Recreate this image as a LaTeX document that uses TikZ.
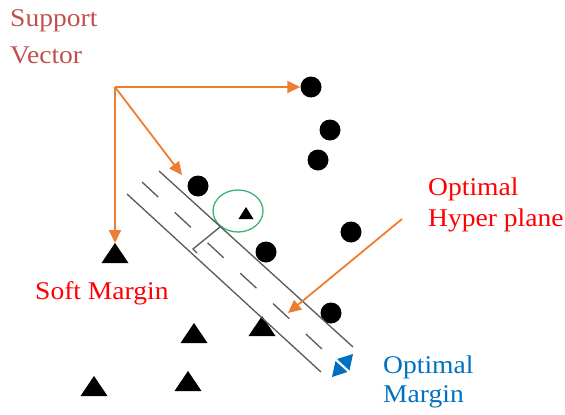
\documentclass[tikz,border=0pt]{standalone}
\usepackage{fontspec}
\setmainfont[FakeStretch=1.08]{Liberation Serif}
\usetikzlibrary{arrows.meta}
\definecolor{svred}{HTML}{C0504D}
\definecolor{orng}{HTML}{ED7D31}
\definecolor{mblue}{HTML}{0070C0}
\definecolor{grn}{HTML}{3CB371}
\definecolor{lgray}{HTML}{595959}
\begin{document}
\begin{tikzpicture}[x=1pt,y=-1pt,
  dot/.style={circle,fill=black,inner sep=0pt,minimum size=21pt},
  lbl/.style={anchor=base west,inner sep=0pt,font=\fontsize{25.5pt}{30pt}\selectfont},
  oarrow/.style={draw=orng,line width=1.8pt,-{Triangle[length=13pt,width=12pt]}},
  gline/.style={draw=lgray,line width=1.3pt},
  bigtri/.pic={\fill[black] (-13.5,10) -- (0,-10) -- (13.5,10) -- cycle;},
  smalltri/.pic={\fill[black] (-7.5,6) -- (0,-6) -- (7.5,6) -- cycle;}]
\useasboundingbox (0,0) rectangle (565,415);
% labels
\node[lbl,text=svred] (sv1) at (10,27) {Support};
\node[lbl,text=svred] (sv2) at (10,63) {Vector};
\node[lbl,text=red] (sm) at (35,299) {Soft Margin};
\node[lbl,text=red] (oh1) at (428,195) {Optimal};
\node[lbl,text=red] (oh2) at (428,226) {Hyper plane};
\node[lbl,text=mblue] (om1) at (383,373) {Optimal};
\node[lbl,text=mblue] (om2) at (383,402) {Margin};
% circles
\node[dot] (c1) at (311,87) {};
\node[dot] (c2) at (330,130) {};
\node[dot] (c3) at (318,160) {};
\node[dot] (c4) at (198,186) {};
\node[dot] (c5) at (351,232) {};
\node[dot] (c6) at (266,252) {};
\node[dot] (c7) at (331,313) {};
% triangles
\pic at (115,253) {bigtri};
\pic at (262,326) {bigtri};
\pic at (194,333) {bigtri};
\pic at (188,381) {bigtri};
\pic at (94,386) {bigtri};
\pic at (246,213) {smalltri};
\coordinate (t1top) at (115,243);
% green circle
\draw[grn,line width=1.3pt] (238,211) ellipse [x radius=25,y radius=21];
% margin lines
\coordinate (u1) at (159,171); \coordinate (u2) at (353,347);
\coordinate (m1) at (142,182); \coordinate (m2) at (322,349);
\coordinate (l1) at (127,194); \coordinate (l2) at (321,372);
\draw[gline] (u1) -- (u2);
\draw[gline] (l1) -- (l2);
\draw[gline,dash pattern=on 22pt off 22.7pt] (m1) -- (m2);
\coordinate (pm1) at (220,227); \coordinate (pm2) at (193,249);
\draw[gline,line cap=round] (pm1) -- (pm2) -- ++(4,4);
% orange arrows
\coordinate (sv) at (115,87);
\coordinate (a2) at (182,175);
\draw[oarrow] (sv) -- (c1);
\draw[oarrow] (sv) -- (a2);
\draw[oarrow] (sv) -- (t1top);
\coordinate (oh) at (402,219);
\coordinate (a4) at (288,313);
\draw[oarrow] (oh) -- (a4);
% blue double arrow
\fill[mblue] (353,354) -- (349.5,370.5) -- (337,359) -- cycle;
\fill[mblue] (332,377) -- (347.5,372) -- (335.5,361) -- cycle;
\end{tikzpicture}
\end{document}
